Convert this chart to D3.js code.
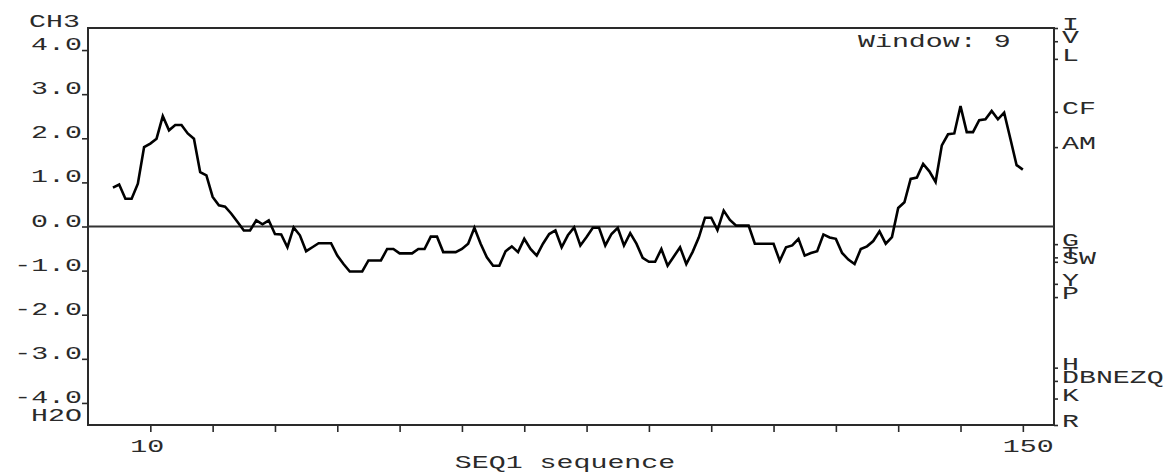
<!DOCTYPE html>
<html><head><meta charset="utf-8">
<script src="https://cdn.jsdelivr.net/npm/d3@7"></script>
<style>html,body{margin:0;padding:0;background:#fff;} svg{display:block}</style>
</head><body>
<svg id="chart" width="1172" height="474"></svg>
<script>
// ---- data (hydropathy, window 9) ----
const firstResidue = 4;
const hydropathy = [
  0.88, 0.95, 0.63, 0.63, 0.97, 1.80, 1.88, 1.99, 2.50, 2.18,   // 4-13
  2.30, 2.30, 2.11, 1.99, 1.23, 1.16, 0.67, 0.48, 0.45, 0.29,   // 14-23
  0.10, -0.09, -0.09, 0.14, 0.05, 0.14, -0.17, -0.18, -0.47, -0.02, // 24-33
  -0.20, -0.56, -0.47, -0.38, -0.38, -0.38, -0.66, -0.85, -1.02, -1.02, // 34-43
  -1.02, -0.77, -0.77, -0.77, -0.51, -0.51, -0.61, -0.61, -0.61, -0.51, // 44-53
  -0.51, -0.23, -0.23, -0.58, -0.58, -0.58, -0.51, -0.39, -0.03, -0.39, // 54-63
  -0.70, -0.89, -0.89, -0.56, -0.45, -0.58, -0.28, -0.51, -0.66, -0.39, // 64-73
  -0.17, -0.09, -0.47, -0.20, -0.02, -0.43, -0.24, -0.03, -0.03, -0.43, // 74-83
  -0.17, -0.03, -0.43, -0.15, -0.39, -0.71, -0.80, -0.80, -0.51, -0.89, // 84-93
  -0.68, -0.47, -0.85, -0.58, -0.25, 0.20, 0.20, -0.08, 0.36, 0.15,    // 94-103
  0.02, 0.02, 0.02, -0.39, -0.39, -0.39, -0.39, -0.78, -0.47, -0.43,   // 104-113
  -0.28, -0.66, -0.60, -0.56, -0.18, -0.25, -0.28, -0.60, -0.75, -0.85, // 114-123
  -0.51, -0.45, -0.33, -0.11, -0.39, -0.24, 0.42, 0.55, 1.08, 1.11,    // 124-133
  1.42, 1.25, 1.01, 1.84, 2.09, 2.11, 2.73, 2.14, 2.14, 2.41,          // 134-143
  2.43, 2.62, 2.43, 2.58, 1.99, 1.39, 1.29                              // 144-150
];
const yTickValues = [4, 3, 2, 1, 0, -1, -2, -3, -4];
const yTickLabels = ["4.0", "3.0", "2.0", "1.0", "0.0", "-1.0", "-2.0", "-3.0", "-4.0"];
const xTickValues = [10, 20, 30, 40, 50, 60, 70, 80, 90, 100, 110, 120, 130, 140, 150];
const xLabelValues = [10, 150];
const xLabelTexts = ["10", "150"];
const rightLabels = ["I", "V", "L", "CF", "AM", "G", "T", "SW", "Y", "P", "H", "DBNEZQ", "K", "R"];
const rightValues = [4.5, 4.2, 3.8, 2.6, 1.8, -0.4, -0.7, -0.8, -1.3, -1.6, -3.2, -3.5, -3.9, -4.5];
const topLabel = "CH3", bottomLabel = "H2O";
const xTitle = "SEQ1 sequence";
const windowNote = "Window: 9";

// ---- drawing ----
const svg = d3.select("#chart");
const L = 88, R = 1054, T = 28, B = 425;
const x = d3.scaleLinear().domain([0, 155]).range([L, R]);
const y = d3.scaleLinear().domain([-4.5, 4.5]).range([B, T]);
const ink = "#2a2a2a";
const FONT = "Liberation Mono";
const SX = 1.57;

function txt(s, px, py, anchor) {
  svg.append("text")
    .attr("transform", `translate(${px},${py}) scale(${SX},1)`)
    .attr("text-anchor", anchor)
    .attr("font-family", FONT)
    .attr("font-size", 18)
    .attr("fill", ink)
    .text(s);
}

// axes ticks
const gL = svg.append("g").attr("transform", `translate(${L},0)`)
  .call(d3.axisLeft(y).tickValues(yTickValues).tickSizeInner(6).tickSizeOuter(0).tickFormat(""));
const gB = svg.append("g").attr("transform", `translate(0,${B})`)
  .call(d3.axisBottom(x).tickValues(xTickValues).tickSizeInner(7).tickSizeOuter(0).tickFormat(""));
const gR = svg.append("g").attr("transform", `translate(${R},0)`)
  .call(d3.axisRight(y).tickValues(rightValues).tickSizeInner(4).tickSizeOuter(0).tickFormat(""));
[gL, gB, gR].forEach(g => {
  g.select(".domain").remove();
  g.selectAll("line").attr("stroke", ink).attr("stroke-width", 1.6);
});

// frame
svg.append("rect").attr("x", L).attr("y", T).attr("width", R - L).attr("height", B - T)
  .attr("fill", "none").attr("stroke", ink).attr("stroke-width", 2);

// zero line
svg.append("line").attr("x1", L).attr("x2", R).attr("y1", y(0)).attr("y2", y(0))
  .attr("stroke", "#333").attr("stroke-width", 2);

// data line
const line = d3.line().x((d, i) => x(firstResidue + i)).y(d => y(d));
svg.append("path").datum(hydropathy).attr("d", line)
  .attr("fill", "none").attr("stroke", "#000").attr("stroke-width", 2.6)
  .attr("stroke-linejoin", "miter").attr("stroke-miterlimit", 3);

// left labels
yTickValues.forEach((v, i) => txt(yTickLabels[i], L - 6, y(v), "end"));
txt(topLabel, L - 8, T - 1, "end");
txt(bottomLabel, L - 6, B - 4, "end");

// bottom labels
xLabelValues.forEach((v, i) => txt(xLabelTexts[i], x(v) - 20, B + 27, "start"));
txt(xTitle, 565, 468, "middle");

// window note
txt(windowNote, 858, 47, "start");

// right labels
rightLabels.forEach((s, i) => txt(s, R + 8, y(rightValues[i]) + 2, "start"));
</script>
</body></html>
